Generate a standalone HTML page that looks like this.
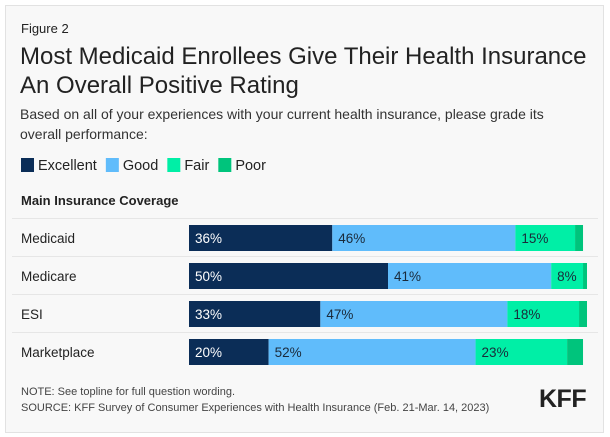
<!DOCTYPE html>
<html><head><meta charset="utf-8"><style>
body{margin:0;width:610px;height:437px;background:#fff;font-family:"Liberation Sans",sans-serif;overflow:hidden}
#card{position:absolute;left:5px;top:5px;width:597px;height:426px;background:#f8f8f8;border:1px solid #e2e2e2}
.t{position:absolute;white-space:nowrap;color:#222}
</style></head><body>
<div id="card"></div>
<div class="t" style="left:21px;top:21px;font-size:13px">Figure 2</div>
<div class="t" style="left:20px;top:42px;font-size:24px;line-height:29px;color:#222">Most Medicaid Enrollees Give Their Health Insurance<br>An Overall Positive Rating</div>
<div class="t" style="left:20px;top:104px;font-size:14px;line-height:20px;color:#333">Based on all of your experiences with your current health insurance, please grade its<br>overall performance:</div>
<svg id="chart" width="610" height="437" style="position:absolute;left:0;top:0"></svg>
<div class="t" style="left:21px;top:386px;font-size:11px;color:#444">NOTE: See topline for full question wording.</div>
<div class="t" style="left:21px;top:402px;font-size:11px;color:#444">SOURCE: KFF Survey of Consumer Experiences with Health Insurance (Feb. 21-Mar. 14, 2023)</div>
<div class="t" style="left:539px;top:385px;font-size:25px;font-weight:bold;color:#222;letter-spacing:-0.5px">KFF</div>
<script>
const categories=["Medicaid","Medicare","ESI","Marketplace"];
const seriesNames=["Excellent","Good","Fair","Poor"];
const excellent=[36,50,33,20];
const good=[46,41,47,52];
const fair=[15,8,18,23];
const poor=[2,1,2,4];
const colors=["#0b2d57","#60bcfb","#00efa6","#00c47c"];
const textColors=["#fff","#1a2a3a","#1a2a3a","#1a2a3a"];
const svg=document.getElementById('chart');
const NS="http://www.w3.org/2000/svg";
const x0=189,scale=3.98;
const xs=v=>v*scale;
const yRow=i=>225+i*38;
const bh=26;
function mk(tag,attrs){const e=document.createElementNS(NS,tag);for(const k in attrs)e.setAttribute(k,attrs[k]);svg.appendChild(e);return e;}
let lx=21;
seriesNames.forEach((n,i)=>{
 const r=mk('rect',{x:lx,y:158,width:13,height:14,fill:colors[i]});
 
 
 const t=mk('text',{x:lx+17,y:170,'font-size':14.5,fill:'#222','font-family':'Liberation Sans, sans-serif'});
 t.textContent=n;
 
 
 lx+=17+t.getComputedTextLength()+9;
});
const h=mk('text',{x:21,y:205,'font-size':13,'font-weight':'bold',fill:'#222','font-family':'Liberation Sans, sans-serif'});
h.textContent="Main Insurance Coverage";


const series=[excellent,good,fair,poor];
categories.forEach((c,i)=>{
 const y=yRow(i);
 const ln=mk('line',{x1:12,x2:598,y1:y-6.5,y2:y-6.5,stroke:'#e6e6e6','stroke-width':1});
 
 
 const lb=mk('text',{x:21,y:y+18,'font-size':13.5,fill:'#222','font-family':'Liberation Sans, sans-serif'});
 lb.textContent=c;
 
 
 let x=x0;
 series.forEach((s,j)=>{
  const w=xs(s[i]);
  const r=mk('rect',{x:x,y:y,width:w,height:bh,fill:colors[j]});
  
  
  if(j<3){
   const t=mk('text',{x:x+6,y:y+18,'font-size':13.5,fill:textColors[j],'font-family':'Liberation Sans, sans-serif'});
   t.textContent=s[i]+'%';
   
   
  }
  x+=w;
 });
});
</script>
</body></html>
